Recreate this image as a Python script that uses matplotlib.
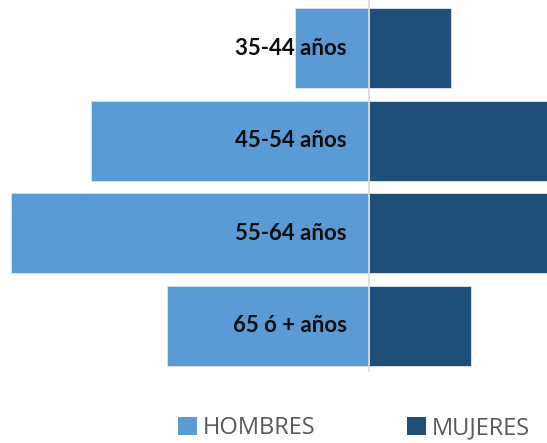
import matplotlib
matplotlib.use("Agg")
import matplotlib.pyplot as plt
from matplotlib.patches import Patch

# Datos (estimados de la imagen)
grupos = ["35-44 años", "45-54 años", "55-64 años", "65 ó + años"]
hombres = [7.4, 27.8, 35.8, 20.2]
mujeres = [8.2, 26.0, 30.0, 10.2]

COLOR_H = "#5B9BD5"
COLOR_M = "#1F4E79"

fig = plt.figure(figsize=(5.47, 4.43), dpi=100)
ax = fig.add_axes([0, (443 - 372) / 443, 1, 372 / 443])

y = list(range(len(grupos)))
ax.barh(y, [-v for v in hombres], height=0.87, color=COLOR_H,
        edgecolor="#dce6f1", linewidth=0.6)
ax.barh(y, mujeres, height=0.87, color=COLOR_M,
        edgecolor="#dce6f1", linewidth=0.6)

ax.axvline(0, color="#d9d9d9", linewidth=1.2, zorder=3)

for i, g in enumerate(grupos):
    ax.text(-2.2, i, g, ha="right", va="center", fontsize=16,
            fontweight="bold", family="Lato", color="#0d0d0d", zorder=4)

ax.set_xlim(-36.9, 17.8)
ax.set_ylim(3.5, -0.5 - 2 / 92.5)
ax.axis("off")

handles = [Patch(facecolor=COLOR_H, label="HOMBRES"),
           Patch(facecolor=COLOR_M, label="MUJERES")]
leg = fig.legend(handles=handles, loc="center", bbox_to_anchor=(354 / 547, 1 - 428 / 443),
                 ncol=2, frameon=False, handlelength=0.8, handleheight=0.8,
                 handletextpad=0.25, columnspacing=3.9,
                 prop={"family": "Open Sans", "size": 17})
for t in leg.get_texts():
    t.set_color("#595959")

fig.savefig("out.png", dpi=100)
